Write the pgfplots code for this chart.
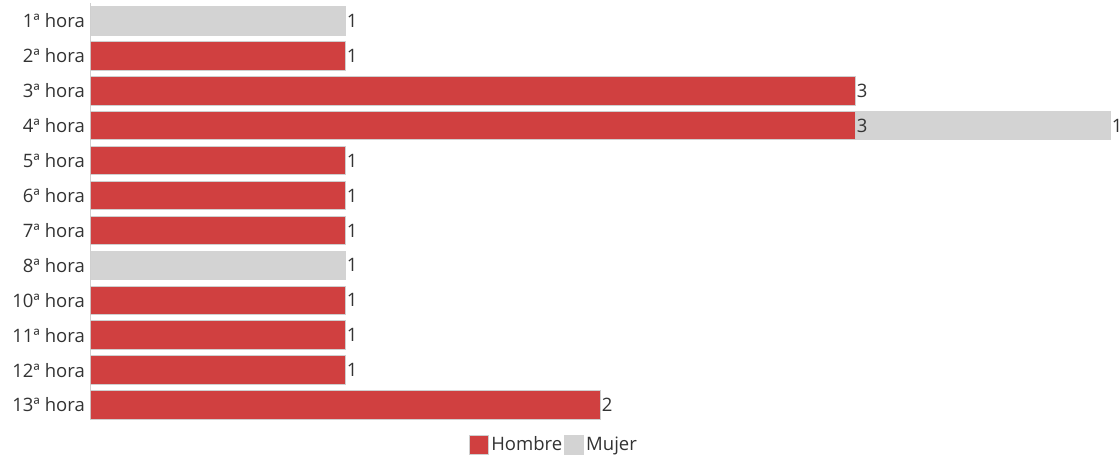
\documentclass[border=0pt]{standalone}
\usepackage{fontspec}
\setmainfont{Open Sans}
\usepackage{pgfplots}
\pgfplotsset{compat=1.18}
\definecolor{hombre}{HTML}{D04040}
\definecolor{mujer}{HTML}{D3D3D3}
\definecolor{edge}{HTML}{CFCFCF}
\definecolor{txt}{HTML}{333333}
\begin{document}
\begin{tikzpicture}[x=1pt,y=1pt]
\useasboundingbox (-91pt,-38pt) rectangle (1029pt,420pt);
\begin{axis}[
  at={(0pt,0pt)}, anchor=south west,
  scale only axis, width=1020pt, height=417pt,
  xbar, bar shift=0pt, bar width=28.5pt,
  xmin=0, xmax=4,
  ymin=-0.516, ymax=11.43, y dir=reverse,
  axis x line=none,
  axis y line*=left,
  y axis line style={draw=edge, line width=1pt},
  ytick={0,...,11},
  yticklabels={1ª hora,2ª hora,3ª hora,4ª hora,5ª hora,6ª hora,7ª hora,8ª hora,10ª hora,11ª hora,12ª hora,13ª hora},
  major tick length=0pt,
  yticklabel style={font=\fontsize{18.5}{21}\selectfont, text=txt, inner sep=1pt, xshift=-5pt},
  point meta=explicit symbolic,
  nodes near coords={\pgfplotspointmeta},
  every node near coord/.append style={font=\fontsize{18.5}{21}\selectfont, text=txt, anchor=west, inner sep=0.5pt},
  legend style={at={(0.454,-0.03)}, anchor=north, draw=none, legend columns=2,
    font=\fontsize{18.5}{21}\selectfont, text=txt, /tikz/every even column/.append style={column sep=0pt}},
  legend image code/.code={\draw[#1, line width=1pt] (-6pt,-9.5pt) rectangle (13pt,9.5pt);},
]
\addlegendimage{fill=hombre, draw=edge}
\addlegendentry{Hombre}
\addlegendimage{fill=mujer, draw=mujer}
\addlegendentry{Mujer}
% Mujer bars drawn behind, ending at the stacked total
\addplot[forget plot, fill=mujer, draw=mujer, line width=1pt] coordinates {
 (1,0) [1] (4,3) [1] (1,7) [1]};
\addplot[forget plot, fill=hombre, draw=edge, line width=1pt] coordinates {
 (1,1) [1] (3,2) [3] (3,3) [3] (1,4) [1] (1,5) [1] (1,6) [1] (1,8) [1] (1,9) [1] (1,10) [1] (2,11) [2]};
\end{axis}
\end{tikzpicture}
\end{document}
